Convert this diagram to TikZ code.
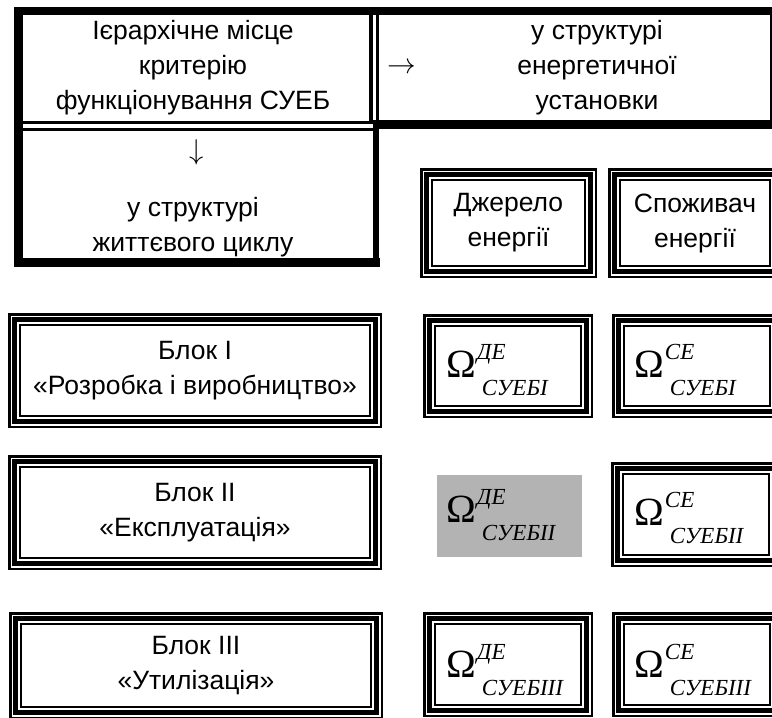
\documentclass[tikz,border=0pt]{standalone}
\usepackage{fontspec}
\setmainfont{Liberation Sans}
\newfontfamily\serifcyr{Liberation Serif}

% Omega with a superscript and a subscript, set in Times-like italics
\newcommand\omlabel[2]{%
  {\serifcyr\fontsize{40}{40}\selectfont Ω}%
  \rlap{\hspace{1pt}\raisebox{18pt}{\serifcyr\itshape\fontsize{23}{23}\selectfont #1}}%
  \hspace{6pt}\raisebox{-18pt}{\serifcyr\itshape\fontsize{23}{23}\selectfont #2}}

% thin / thick / thin frame drawn just inside a node's border
\newcommand\tframe[1]{%
  \draw[line width=2.5pt] ([shift={(1.25,1.25)}]#1.north west) rectangle ([shift={(-1.25,-1.25)}]#1.south east);
  \draw[line width=5pt]   ([shift={(6.5,6.5)}]#1.north west) rectangle ([shift={(-6.5,-6.5)}]#1.south east);
  \draw[line width=2pt]   ([shift={(12,12)}]#1.north west) rectangle ([shift={(-12,-12)}]#1.south east);}

\tikzset{
  txt/.style={align=center, inner sep=0pt, font=\fontsize{26.5}{35}\selectfont},
  arrowsign/.style={inner sep=0pt, scale=1.15, font=\fontsize{24.88}{24.88}\selectfont},
  cell/.style={txt, outer sep=0pt, draw=none},
  omnode/.style={anchor=base west, inner sep=0pt},
  heavy/.style={line width=9pt},
  rule/.style={line width=3.4pt},
}

\begin{document}
\begin{tikzpicture}[x=1pt,y=-1pt]
\useasboundingbox (0,0) rectangle (772,718);

% ---- header table ----
\draw[line width=8pt] (14,11) -- (780,11);
\draw[heavy] (18.5,7) -- (18.5,267);
\draw[heavy] (14,262.5) -- (380,262.5);
\draw[line width=6.6pt] (376,127) -- (376,267);
\draw[heavy] (373,124.5) -- (780,124.5);
\draw[line width=8pt] (774,7) -- (774,129);
\draw[rule] (371,15) -- (371,121);
\draw[rule] (377.7,15) -- (377.7,120);
\draw[rule] (23,122.5) -- (373,122.5);
\draw[rule] (23,129.5) -- (373,129.5);

\node[txt] (tA) at (193,68) {Ієрархічне місце\\критерію\\функціонування СУЕБ};
\node[txt] (tB) at (597,68) {у структурі\\енергетичної\\установки};
\node[arrowsign] (arr) at (401.5,68) {$\rightarrow$};
\node[arrowsign] (down) at (197,152) {$\downarrow$};
\node[txt] (tC) at (193,227) {у структурі\\життєвого циклу};

% ---- source / consumer headings ----
\node[cell, minimum width=177, minimum height=110] (src) at (508.5,223) {Джерело\\енергії};
\tframe{src}
\node[cell, minimum width=174, minimum height=110] (cons) at (695,223) {Споживач\\енергії};
\tframe{cons}

% ---- life-cycle blocks ----
\node[cell, minimum width=374, minimum height=115] (blk1) at (195,370.5) {Блок I\\«Розробка і виробництво»};
\tframe{blk1}
\node[cell, minimum width=374, minimum height=115] (blk2) at (195,512.5) {Блок II\\«Експлуатація»};
\tframe{blk2}
\node[cell, minimum width=374, minimum height=107] (blk3) at (196,665.5) {Блок III\\«Утилізація»};
\tframe{blk3}

% ---- criterion cells ----
\node[cell, minimum width=170, minimum height=104] (c1a) at (508,366) {};
\tframe{c1a}
\node[cell, minimum width=170, minimum height=104] (c1b) at (697,366) {};
\tframe{c1b}
\node[cell, fill={rgb,255:red,179;green,179;blue,179}, minimum width=145, minimum height=82] (c2a) at (509.5,516) {};
\node[cell, minimum width=170, minimum height=105] (c2b) at (696,514.5) {};
\tframe{c2b}
\node[cell, minimum width=170, minimum height=105] (c3a) at (508,664.5) {};
\tframe{c3a}
\node[cell, minimum width=170, minimum height=105] (c3b) at (697,664.5) {};
\tframe{c3b}

\node[omnode] (o1a) at (446,377) {\omlabel{ДЕ}{СУЕБI}};
\node[omnode] (o1b) at (634,377) {\omlabel{СЕ}{СУЕБI}};
\node[omnode] (o2a) at (446,522) {\omlabel{ДЕ}{СУЕБII}};
\node[omnode] (o2b) at (634,525.5) {\omlabel{СЕ}{СУЕБII}};
\node[omnode] (o3a) at (446,677) {\omlabel{ДЕ}{СУЕБIII}};
\node[omnode] (o3b) at (634,677) {\omlabel{СЕ}{СУЕБIII}};
\end{tikzpicture}
\end{document}
